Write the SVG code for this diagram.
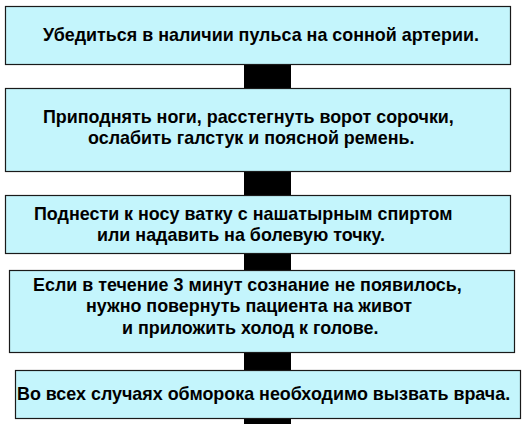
<svg xmlns="http://www.w3.org/2000/svg" width="532" height="424" viewBox="0 0 532 424">
<style>
.box{fill:#C4F5FC;stroke:#1a1a1a;stroke-width:1.2}
.bar{fill:#000}
text{font-family:"Liberation Sans",Arial,sans-serif;font-weight:bold;font-size:17.9px;fill:#000}
</style>
<rect width="532" height="424" fill="#fff"/>
<g id="connectors">
<rect class="bar" x="244" y="64" width="47" height="24"/>
<rect class="bar" x="244" y="172" width="47" height="24"/>
<rect class="bar" x="244" y="254" width="47" height="16"/>
<rect class="bar" x="244" y="352" width="47" height="18"/>
<rect class="bar" x="244" y="418" width="47" height="6"/>
</g>
<g id="node1">
<rect class="box" x="5.5" y="6.5" width="505" height="58"/>
<text x="43" y="41">Убедиться в наличии пульса на сонной артерии.</text>
</g>
<g id="node2">
<rect class="box" x="5.5" y="88.5" width="505" height="83"/>
<text x="43" y="122.7">Приподнять ноги, расстегнуть ворот сорочки,</text>
<text x="88" y="144.3">ослабить галстук и поясной ремень.</text>
</g>
<g id="node3">
<rect class="box" x="5.5" y="195.5" width="505" height="58"/>
<text x="34" y="220">Поднести к носу ватку с нашатырным спиртом</text>
<text x="97" y="241">или надавить на болевую точку.</text>
</g>
<g id="node4">
<rect class="box" x="9.5" y="270.5" width="505" height="82"/>
<text x="33" y="290.7">Если в течение 3 минут сознание не появилось,</text>
<text x="86" y="312.3">нужно повернуть пациента на живот</text>
<text x="122" y="333.5">и приложить холод к голове.</text>
</g>
<g id="node5">
<rect class="box" x="15.5" y="370.5" width="505" height="48"/>
<text x="17" y="400">Во всех случаях обморока необходимо вызвать врача.</text>
</g>
</svg>
